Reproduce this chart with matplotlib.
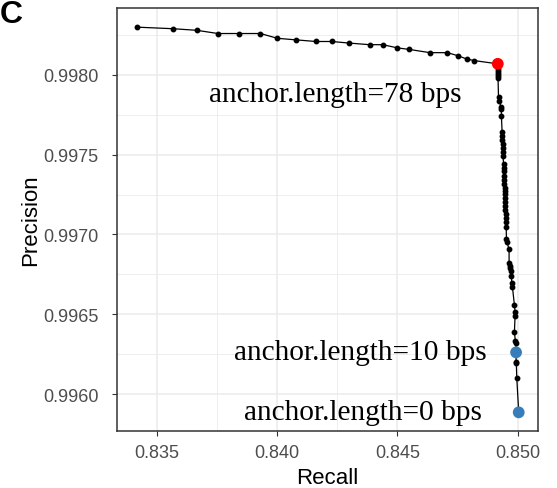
import numpy as np
import matplotlib
matplotlib.use("Agg")
import matplotlib.pyplot as plt
from matplotlib.ticker import MultipleLocator

# precision/recall path
recall = [
    0.83417, 0.83569, 0.83667, 0.83754, 0.83843, 0.83931, 0.84001, 0.84080,
    0.84161, 0.84227, 0.84300, 0.84384, 0.84439, 0.84500, 0.84550, 0.84635,
    0.84708, 0.84753, 0.84788, 0.84820, 0.84917,
    0.84918, 0.84918, 0.84918, 0.84918, 0.84918, 0.84918,
    0.84920, 0.84923, 0.84930, 0.84932, 0.84932,
    0.84935, 0.84936, 0.84936, 0.84937, 0.84938, 0.84939, 0.84939, 0.84941,
    0.84941, 0.84942, 0.84943, 0.84944, 0.84944, 0.84945, 0.84946, 0.84946,
    0.84947, 0.84948, 0.84948, 0.84949, 0.84950, 0.84950, 0.84951, 0.84952,
    0.84953, 0.84955, 0.84964, 0.84964, 0.84967, 0.84968, 0.84971, 0.84974,
    0.84975, 0.84978, 0.84986, 0.84989, 0.84989, 0.84986, 0.84990, 0.84993,
    0.84993, 0.84993, 0.84994, 0.84996, 0.85004,
]
precision = [
    0.99830, 0.99829, 0.99828, 0.99826, 0.99826, 0.99826, 0.99823, 0.99822,
    0.99821, 0.99821, 0.99820, 0.99819, 0.99819, 0.99817, 0.99816, 0.99814,
    0.99814, 0.99812, 0.99810, 0.99809, 0.99807,
    0.998044, 0.998031, 0.998019, 0.998006, 0.997994, 0.997981,
    0.997864, 0.997839, 0.997801, 0.997787, 0.997745,
    0.997643, 0.997618, 0.997592, 0.997567, 0.997542, 0.997517, 0.997492, 0.997442,
    0.997417, 0.997398, 0.997367, 0.997342, 0.997317, 0.997292, 0.997273, 0.997254,
    0.997229, 0.997204, 0.997179, 0.997154, 0.997129, 0.997103, 0.997078, 0.997047,
    0.996972, 0.996951, 0.996909, 0.996819, 0.996804, 0.996788, 0.996773, 0.996742,
    0.996694, 0.996669, 0.996560, 0.996516, 0.996491, 0.996387, 0.996334, 0.996318,
    0.996261, 0.996202, 0.996192, 0.996100, 0.995885,
]

# highlighted anchor lengths
hl_labels = ["anchor.length=78 bps", "anchor.length=10 bps", "anchor.length=0 bps"]
hl_recall = [0.84917, 0.84993, 0.85004]
hl_precision = [0.99807, 0.996261, 0.995885]
hl_colors = ["#FF0000", "#377EB8", "#377EB8"]
# label offsets (dx, dy) from each point, data units
hl_offsets = [(-0.00150, -0.00019), (-0.00122, 0.0), (-0.00153, 0.0)]

fig = plt.figure(figsize=(5.57, 4.89), dpi=100)
ax = fig.add_axes([0.2106, 0.1172, 0.9654 - 0.2106, 0.9816 - 0.1172])

ax.plot(recall, precision, color="black", lw=0.9, marker="o", ms=3.2, zorder=3)
ax.scatter(hl_recall, hl_precision, s=72, c=hl_colors, zorder=4, linewidths=0)
for lab, x, y, (dx, dy) in zip(hl_labels, hl_recall, hl_precision, hl_offsets):
    ax.text(x + dx, y + dy, lab, ha="right", va="center",
            family="Liberation Serif", fontsize=21.2, color="black")

ax.set_xlim(0.83336, 0.85083)
ax.set_ylim(0.99577, 0.99842)
ax.xaxis.set_minor_locator(MultipleLocator(0.0025))
ax.yaxis.set_minor_locator(MultipleLocator(0.00025))
ax.set_xticks([0.835, 0.840, 0.845, 0.850], ["0.835", "0.840", "0.845", "0.850"])
ax.set_yticks([0.9960, 0.9965, 0.9970, 0.9975, 0.9980],
              ["0.9960", "0.9965", "0.9970", "0.9975", "0.9980"])

ax.grid(which="major", color="#EBEBEB", lw=1.1, zorder=0)
ax.grid(which="minor", color="#EBEBEB", lw=0.6, zorder=0)
ax.set_axisbelow(True)
ax.tick_params(which="minor", length=0)
ax.tick_params(which="major", length=3.6, width=0.8, color="#333333",
               labelcolor="#4D4D4D", labelsize=13)
ax.tick_params(axis="x", pad=6)
ax.tick_params(axis="y", pad=10)
for lab in ax.get_xticklabels() + ax.get_yticklabels():
    lab.set_family("Liberation Sans")
for s in ax.spines.values():
    s.set_color("#333333")
    s.set_linewidth(1.1)

ax.set_xlabel("Recall", family="Liberation Sans", fontsize=16, labelpad=4)
ax.set_ylabel("Precision", family="Liberation Sans", fontsize=16, labelpad=1)

fig.text(0.0, 1 - 23 / 489, "C", family="Liberation Sans", fontweight="bold",
         fontsize=23, va="baseline", ha="left")

fig.savefig("out.png", dpi=100)
